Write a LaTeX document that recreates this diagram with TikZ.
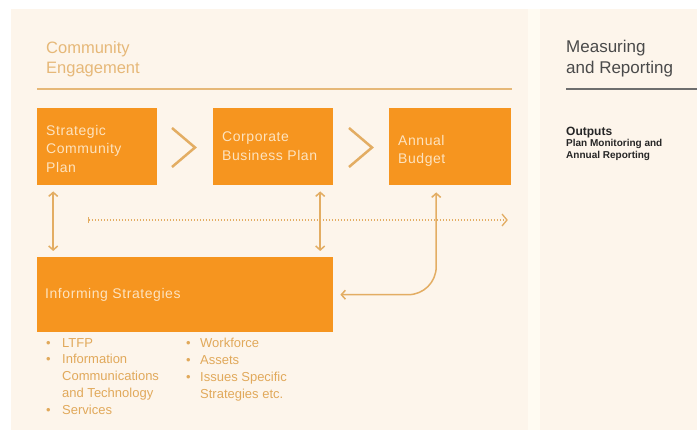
\documentclass[tikz,border=0pt]{standalone}
\usepackage{fontspec}
\setmainfont{Liberation Sans}
\usetikzlibrary{arrows.meta}
\definecolor{bgcream}{HTML}{FDF5EB}
\definecolor{stripc}{HTML}{FFFBF2}
\definecolor{orangebox}{HTML}{F6951F}
\definecolor{boxtxt}{HTML}{FDE3BF}
\definecolor{tan}{HTML}{E3AD63}
\definecolor{tanlight}{HTML}{E6B878}
\definecolor{tantext}{HTML}{E1A95B}
\definecolor{darkgray}{HTML}{4A4A4A}
\definecolor{rulegray}{HTML}{6E6E6E}
\begin{document}
\begin{tikzpicture}[x=1pt,y=-1pt,
  obox/.style={fill=orangebox, draw=none, inner sep=0pt, anchor=north west},
  boxtext/.style={text=boxtxt, inner sep=0pt, anchor=north west, align=left,
    font=\fontsize{14}{18.5}\selectfont\addfontfeature{LetterSpace=4}},
  headtan/.style={text=tanlight, inner sep=0pt, anchor=north west, align=left,
    font=\fontsize{16.5}{20.5}\selectfont},
  headgray/.style={text=darkgray, inner sep=0pt, anchor=north west, align=left,
    font=\fontsize{17}{20.5}\selectfont},
  bullettext/.style={text=tantext, inner sep=0pt, anchor=north west, align=left,
    font=\fontsize{13}{16.8}\selectfont},
  conn/.style={draw=tan, line width=1.5pt},
  bothtips/.style={{Straight Barb[length=4pt,width=9pt]}-{Straight Barb[length=4pt,width=9pt]}},
  chev/.style={draw=tan, line width=2.5pt, miter limit=10}
]
\useasboundingbox (0,0) rectangle (697,430);
\fill[white] (0,0) rectangle (697,430);
\fill[bgcream] (11,9) rectangle (697,430);
\fill[stripc] (528,9) rectangle (540,430);

% headings
\node[headtan] (ce) at (46,41) {Community\\Engagement};
\draw[tanlight, line width=2pt] (37,89) -- (512,89);
\node[headgray] (mr) at (566,40) {Measuring\\and Reporting};
\draw[rulegray, line width=2pt] (566,89) -- (697,89);

% boxes
\node[obox, minimum width=120pt, minimum height=77pt] (scp) at (37,108) {};
\node[obox, minimum width=120pt, minimum height=77pt] (cbp) at (213,108) {};
\node[obox, minimum width=122pt, minimum height=77pt] (ab) at (389,108) {};
\node[obox, minimum width=296pt, minimum height=75pt] (is) at (37,257) {};

\node[boxtext] (scpt) at (46,125) {Strategic\\Community\\Plan};
\node[boxtext] (cbpt) at (222,132) {Corporate\\Business Plan};
\node[boxtext] (abt) at (398,135) {Annual\\Budget};
\node[boxtext, anchor=west] (ist) at (45,295) {Informing Strategies};

% chevrons
\draw[chev] (172,128) -- (195,147.5) -- (172,167);
\draw[chev] (349,128) -- (372,147.5) -- (349,167);

% connectors
\coordinate (a1) at ([xshift=-44pt,yshift=-6pt]scp.south);
\coordinate (a2) at ([yshift=6pt]a1 |- is.north);
\draw[conn, bothtips] (a1) -- (a2);
\coordinate (b1) at ([xshift=47pt,yshift=-6pt]cbp.south);
\coordinate (b2) at ([yshift=6pt]b1 |- is.north);
\draw[conn, bothtips] (b1) -- (b2);
\coordinate (c1) at ([xshift=7pt]is.east);
\coordinate (c2) at ([xshift=-14pt,yshift=-7pt]ab.south);
\draw[conn, bothtips, rounded corners=28pt] (c1) -- (c2 |- c1) -- (c2);
\coordinate (d0) at (88,220);
\coordinate (d1) at (507,220);
\draw[conn, line width=1.3pt, dash pattern=on 1.5pt off 1.5pt, {Bar[width=6pt,line width=1pt]}-] (d0) -- ([xshift=-2pt]d1);
\draw[conn, line width=1.3pt] ([xshift=-5pt,yshift=-6pt]d1) -- (d1) -- ([xshift=-5pt,yshift=6pt]d1);

% bullet lists
\node[bullettext] (l1) at (46,338) {\makebox[16pt][l]{\textbullet}LTFP\\
\makebox[16pt][l]{\textbullet}Information\\
\hspace*{16pt}Communications\\
\hspace*{16pt}and Technology\\
\makebox[16pt][l]{\textbullet}Services};
\node[bullettext] (l2) at (186,338) {\makebox[14pt][l]{\textbullet}Workforce\\
\makebox[14pt][l]{\textbullet}Assets\\
\makebox[14pt][l]{\textbullet}Issues Specific\\
\hspace*{14pt}Strategies etc.};

% outputs
\node[inner sep=0pt, anchor=north west, align=left, text=black!85] (out) at (566,127)
  {{\fontsize{12}{13}\selectfont\bfseries Outputs}\\[-1pt]
   {\fontsize{10}{12.5}\selectfont\bfseries Plan Monitoring and}\\
   {\fontsize{10}{12.5}\selectfont\bfseries Annual Reporting}};
\end{tikzpicture}
\end{document}
